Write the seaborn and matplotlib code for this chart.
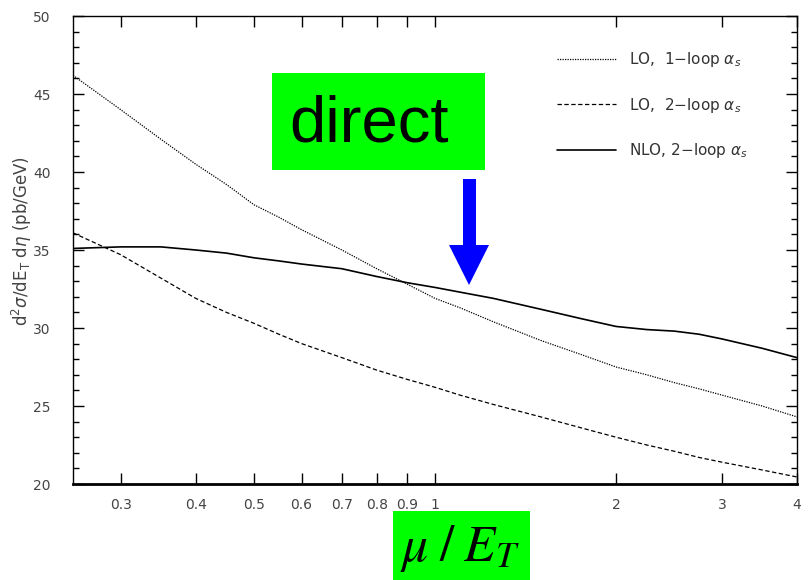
import matplotlib
matplotlib.use("Agg")
import matplotlib.pyplot as plt
import seaborn as sns
from matplotlib.patches import Rectangle, Polygon
from matplotlib.ticker import FixedLocator, MultipleLocator, NullLocator

mu = [0.25, 0.3, 0.35, 0.4, 0.45, 0.5, 0.55, 0.6, 0.7, 0.8, 0.9, 1.0,
      1.1, 1.25, 1.5, 1.75, 2.0, 2.25, 2.5, 2.75, 3.0, 3.5, 4.0]
lo_1loop = [46.2, 44.0, 42.1, 40.5, 39.2, 37.9, 37.1, 36.3, 35.0, 33.8, 32.8, 31.9,
            31.3, 30.4, 29.2, 28.3, 27.5, 27.0, 26.5, 26.1, 25.7, 25.0, 24.3]
lo_2loop = [36.1, 34.7, 33.2, 31.9, 31.0, 30.3, 29.6, 29.0, 28.1, 27.3, 26.7, 26.2,
            25.7, 25.1, 24.3, 23.6, 23.0, 22.5, 22.1, 21.7, 21.4, 20.9, 20.45]
nlo_2loop = [35.1, 35.2, 35.2, 35.0, 34.8, 34.5, 34.3, 34.1, 33.8, 33.3, 32.9, 32.6,
             32.3, 31.9, 31.2, 30.6, 30.1, 29.9, 29.8, 29.6, 29.3, 28.7, 28.1]

series_labels = [r"LO,  1$-$loop $\alpha_s$",
                 r"LO,  2$-$loop $\alpha_s$",
                 r"NLO, 2$-$loop $\alpha_s$"]
x_ticks = [0.3, 0.4, 0.5, 0.6, 0.7, 0.8, 0.9, 1, 2, 3, 4]
x_ticklabels = ["0.3", "0.4", "0.5", "0.6", "0.7", "0.8", "0.9", "1", "2", "3", "4"]

sns.set_style("ticks", {"axes.edgecolor": "black"})
plt.rcParams["font.family"] = ["DejaVu Sans"]

W, H = 808, 580
fig = plt.figure(figsize=(W / 100, H / 100), dpi=100)
ax = fig.add_axes([73 / W, 1 - 484 / H, (797 - 73) / W, (484 - 16) / H])

sns.lineplot(x=mu, y=lo_1loop, color="black", lw=0.9,
             linestyle=(0, (1, 1)), label=series_labels[0], ax=ax)
sns.lineplot(x=mu, y=lo_2loop, color="black", lw=0.9,
             linestyle=(0, (3.5, 2)), label=series_labels[1], ax=ax)
sns.lineplot(x=mu, y=nlo_2loop, color="black", lw=1.2,
             linestyle="-", label=series_labels[2], ax=ax)

ax.set_xscale("log")
ax.set_xlim(0.25, 4)
ax.set_ylim(20, 50)
ax.xaxis.set_major_locator(FixedLocator(x_ticks))
ax.xaxis.set_minor_locator(NullLocator())
ax.set_xticklabels(x_ticklabels)
ax.yaxis.set_major_locator(MultipleLocator(5))
ax.yaxis.set_minor_locator(MultipleLocator(1))
ax.tick_params(which="both", direction="in", top=True, right=True,
               labelsize=10, labelcolor="#444444", width=1, color="black")
ax.tick_params(which="major", length=8)
ax.tick_params(which="minor", length=4)
ax.tick_params(axis="x", pad=10)
ax.tick_params(axis="y", pad=16)
for side in ["top", "left", "right"]:
    ax.spines[side].set_linewidth(1)
ax.spines["bottom"].set_linewidth(2)
ax.set_xlabel("")
ax.set_ylabel(r"d$^2\sigma$/dE$_\mathrm{T}$ d$\eta$ (pb/GeV)",
              fontsize=12, color="#444444")
# label sits a little above the axes centre in the original
ax.yaxis.set_label_coords(-0.054, 0.52)

ax.legend(loc="upper left", bbox_to_anchor=(557 / W, 1 - 50 / H),
          bbox_transform=fig.transFigure, frameon=False, fontsize=11,
          labelcolor="#333333", handlelength=3.85, handletextpad=0.85,
          labelspacing=1.75, borderpad=0, borderaxespad=0)

# green label boxes
fig.add_artist(Rectangle((272 / W, 1 - 170 / H), (485 - 272) / W, (170 - 73) / H,
                         transform=fig.transFigure, facecolor="#00ff00",
                         edgecolor="none"))
fig.text(369 / W, 1 - 124 / H, "direct", fontsize=47, color="black",
         ha="center", va="center", family="Liberation Sans")
fig.add_artist(Rectangle((393 / W, 0), (530 - 393) / W, (580 - 511) / H,
                         transform=fig.transFigure, facecolor="#00ff00",
                         edgecolor="none"))
fig.text(460 / W, 1 - 549 / H, r"$\mu\;/\;E_T$", fontsize=37, color="black",
         ha="center", va="center", math_fontfamily="stix")

# blue arrow
arrow_px = [(463, 179), (476, 179), (476, 245), (489, 245), (469, 285),
            (449, 245), (463, 245)]
fig.add_artist(Polygon([(x / W, 1 - y / H) for x, y in arrow_px],
                       closed=True, transform=fig.transFigure,
                       facecolor="#0000ff", edgecolor="none"))

fig.savefig("out.png", dpi=100)
